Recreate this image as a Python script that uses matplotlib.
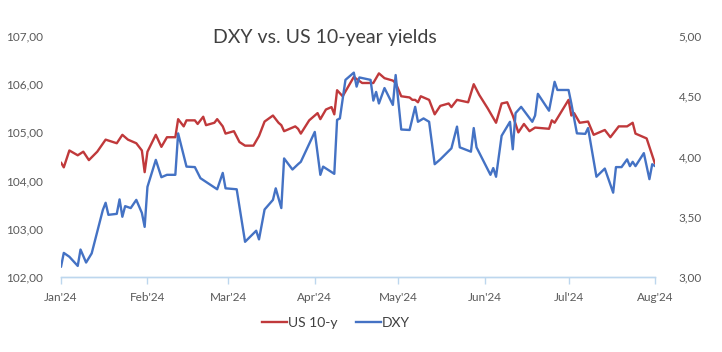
import matplotlib
matplotlib.use("Agg")
import matplotlib.pyplot as plt
import pandas as pd
from matplotlib.lines import Line2D

plt.rcParams['font.family'] = ['Lato', 'DejaVu Sans']

# ---- data ----
dxy_dates = ["2024-01-01","2024-01-02","2024-01-04","2024-01-07","2024-01-08","2024-01-10","2024-01-12",
             "2024-01-16","2024-01-17","2024-01-18","2024-01-21","2024-01-22","2024-01-23","2024-01-24",
             "2024-01-26","2024-01-28","2024-01-30","2024-01-31","2024-02-01","2024-02-04","2024-02-06",
             "2024-02-08","2024-02-11","2024-02-12","2024-02-15","2024-02-18","2024-02-20","2024-02-26",
             "2024-02-28","2024-02-29","2024-03-04","2024-03-07","2024-03-11","2024-03-12","2024-03-14",
             "2024-03-17","2024-03-18","2024-03-20","2024-03-21","2024-03-24","2024-03-26","2024-03-27",
             "2024-04-01","2024-04-03","2024-04-04","2024-04-08","2024-04-09","2024-04-10","2024-04-12",
             "2024-04-15","2024-04-16","2024-04-17","2024-04-21","2024-04-22","2024-04-23","2024-04-24",
             "2024-04-26","2024-04-29","2024-04-30","2024-05-02","2024-05-05","2024-05-07","2024-05-08",
             "2024-05-10","2024-05-12","2024-05-14","2024-05-16","2024-05-20","2024-05-22","2024-05-23",
             "2024-05-27","2024-05-28","2024-05-29","2024-06-03","2024-06-04","2024-06-05","2024-06-07",
             "2024-06-10","2024-06-11","2024-06-12","2024-06-14","2024-06-18","2024-06-19","2024-06-20",
             "2024-06-24","2024-06-26","2024-06-27","2024-07-01","2024-07-02","2024-07-04","2024-07-07",
             "2024-07-08","2024-07-11","2024-07-14","2024-07-17","2024-07-18","2024-07-20","2024-07-22",
             "2024-07-23","2024-07-24","2024-07-25","2024-07-28","2024-07-30","2024-07-31","2024-08-01"]
dxy_values = [102.21,102.50,102.42,102.23,102.57,102.30,102.49,
              103.39,103.54,103.29,103.31,103.61,103.25,103.47,
              103.43,103.60,103.33,103.04,103.87,104.43,104.07,
              104.12,104.12,104.98,104.29,104.28,104.05,103.82,
              104.16,103.84,103.82,102.73,102.96,102.78,103.40,
              103.60,103.84,103.43,104.46,104.23,104.34,104.39,
              105.01,104.12,104.29,104.14,105.26,105.29,106.09,
              106.24,105.95,106.14,106.09,105.66,105.84,105.60,
              105.92,105.57,106.19,105.06,105.05,105.53,105.22,
              105.29,105.22,104.34,104.44,104.67,105.12,104.69,
              104.60,105.09,104.69,104.12,104.26,104.08,104.93,
              105.22,104.65,105.40,105.53,105.22,105.35,105.80,
              105.45,106.05,105.88,105.88,105.60,104.98,104.97,
              105.09,104.08,104.25,103.75,104.28,104.28,104.44,
              104.30,104.39,104.30,104.57,104.03,104.34,104.30]

us10y_dates = ["2024-01-01","2024-01-02","2024-01-04","2024-01-07","2024-01-09","2024-01-11","2024-01-14",
               "2024-01-17","2024-01-21","2024-01-23","2024-01-25","2024-01-28","2024-01-30","2024-01-31",
               "2024-02-01","2024-02-04","2024-02-06","2024-02-08","2024-02-11","2024-02-12","2024-02-14",
               "2024-02-15","2024-02-18","2024-02-19","2024-02-21","2024-02-22","2024-02-25","2024-02-26",
               "2024-02-28","2024-02-29","2024-03-03","2024-03-05","2024-03-07","2024-03-10","2024-03-12",
               "2024-03-14","2024-03-17","2024-03-19","2024-03-20","2024-03-21","2024-03-24","2024-03-25",
               "2024-03-26","2024-03-27","2024-03-30","2024-04-02","2024-04-03","2024-04-05","2024-04-07",
               "2024-04-08","2024-04-09","2024-04-11","2024-04-13","2024-04-15","2024-04-18","2024-04-22",
               "2024-04-24","2024-04-26","2024-04-29","2024-04-30","2024-05-02","2024-05-05","2024-05-06",
               "2024-05-07","2024-05-08","2024-05-09","2024-05-12","2024-05-14","2024-05-16","2024-05-19",
               "2024-05-20","2024-05-22","2024-05-26","2024-05-28","2024-05-30","2024-06-02","2024-06-05",
               "2024-06-07","2024-06-09","2024-06-11","2024-06-13","2024-06-15","2024-06-17","2024-06-19",
               "2024-06-24","2024-06-25","2024-06-26","2024-07-01","2024-07-02","2024-07-03","2024-07-05",
               "2024-07-08","2024-07-10","2024-07-14","2024-07-16","2024-07-19","2024-07-22","2024-07-24",
               "2024-07-25","2024-07-29","2024-07-31","2024-08-01"]
us10y_values = [3.95,3.91,4.05,4.01,4.04,3.97,4.04,
                4.14,4.11,4.18,4.14,4.11,4.05,3.87,
                4.04,4.18,4.08,4.16,4.16,4.31,4.25,
                4.30,4.30,4.27,4.33,4.26,4.28,4.31,
                4.25,4.19,4.21,4.12,4.09,4.09,4.17,
                4.29,4.34,4.28,4.26,4.21,4.24,4.25,
                4.23,4.19,4.30,4.36,4.31,4.39,4.41,
                4.35,4.55,4.50,4.58,4.66,4.61,4.61,
                4.69,4.65,4.63,4.61,4.50,4.49,4.47,
                4.47,4.45,4.50,4.47,4.35,4.42,4.44,
                4.41,4.47,4.45,4.60,4.51,4.40,4.28,
                4.44,4.45,4.34,4.20,4.27,4.21,4.24,
                4.23,4.30,4.28,4.47,4.34,4.36,4.28,
                4.29,4.18,4.22,4.16,4.25,4.25,4.28,
                4.19,4.15,4.01,3.94]

title = "DXY vs. US 10-year yields"
series_names = ["US 10-y", "DXY"]
left_ticks = [102, 103, 104, 105, 106, 107]
left_labels = ["102,00", "103,00", "104,00", "105,00", "106,00", "107,00"]
right_ticks = [3.0, 3.5, 4.0, 4.5, 5.0]
right_labels = ["3,00", "3,50", "4,00", "4,50", "5,00"]
month_ticks = ["2024-01-01","2024-02-01","2024-03-01","2024-04-01","2024-05-01","2024-06-01","2024-07-01","2024-08-01"]
month_labels = ["Jan'24","Feb'24","Mar'24","Apr'24","May'24","Jun'24","Jul'24","Aug'24"]

RED = "#C0393B"
BLUE = "#4472C4"
TXT = "#595959"

fig = plt.figure(figsize=(7.22, 3.52), dpi=100)
ax = fig.add_axes([61/722, 1-277/352, (655-61)/722, (277-36)/352])
ax2 = ax.twinx()

d_dxy = pd.to_datetime(dxy_dates)
d_us = pd.to_datetime(us10y_dates)

ax2.plot(d_us, us10y_values, color=RED, lw=1.7, solid_joinstyle='round', solid_capstyle='round')
ax.plot(d_dxy, dxy_values, color=BLUE, lw=1.7, solid_joinstyle='round', solid_capstyle='round')
ax.set_zorder(ax2.get_zorder() + 1)
ax.patch.set_visible(False)

ax.set_ylim(102, 107)
ax2.set_ylim(3, 5)
ax.set_xlim(pd.Timestamp("2024-01-01"), pd.Timestamp("2024-08-01"))

ax.set_yticks(left_ticks)
ax.set_yticklabels(left_labels)
ax2.set_yticks(right_ticks)
ax2.set_yticklabels(right_labels)
ax.set_xticks(pd.to_datetime(month_ticks))
ax.set_xticklabels(month_labels)

for a in (ax, ax2):
    for s in ("top", "left", "right"):
        a.spines[s].set_visible(False)
    a.spines["bottom"].set_color("#BDD7EE")
    a.spines["bottom"].set_linewidth(1.0)

ax.tick_params(axis='y', length=0, pad=13, labelsize=8.5, labelcolor=TXT)
ax2.tick_params(axis='y', length=0, pad=17, labelsize=8.5, labelcolor=TXT)
ax.tick_params(axis='x', length=5, width=1.0, color="#BDD7EE", pad=6, labelsize=8.5, labelcolor=TXT)
ax2.tick_params(axis='x', length=0)

fig.text(325/722, 1-38/352, title, ha='center', va='center', fontsize=14, color="#404040")

handles = [Line2D([0], [0], color=RED, lw=1.7), Line2D([0], [0], color=BLUE, lw=1.7)]
fig.legend(handles, series_names, loc='center', bbox_to_anchor=(336/722, 1-323/352), ncol=2,
           frameon=False, fontsize=10, handlelength=1.8, handletextpad=0.1, columnspacing=1.3,
           labelcolor="#404040")

fig.savefig("out.png", dpi=100)
